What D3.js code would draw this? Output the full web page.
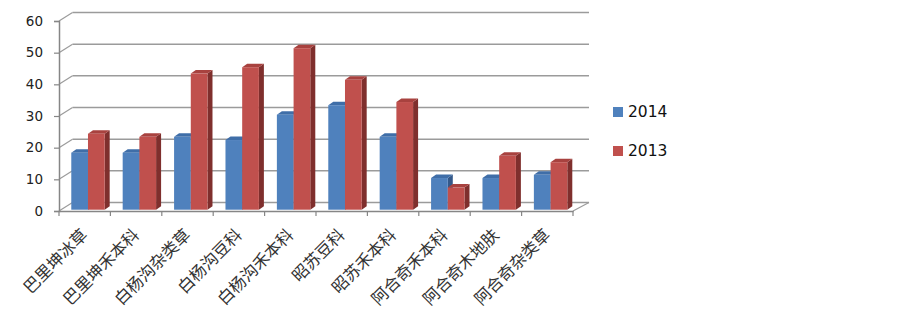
<!DOCTYPE html>
<html>
<head>
<meta charset="utf-8">
<script src="https://cdn.jsdelivr.net/npm/d3@7"></script>
<style>
  body { margin: 0; background: #fff; }
  svg { display: block; }
</style>
</head>
<body>
<svg></svg>
<script>
const categories = ['巴里坤冰草', '巴里坤禾本科', '白杨沟杂类草', '白杨沟豆科', '白杨沟禾本科',
  '昭苏豆科', '昭苏禾本科', '阿合奇禾本科', '阿合奇木地肤', '阿合奇杂类草'];
const values2014 = [18, 18, 23, 22, 30, 33, 23, 10, 10, 11];
const values2013 = [24, 23, 43, 45, 51, 41, 34, 7, 17, 15];
const yTicks = [0, 10, 20, 30, 40, 50, 60];

const series = [
  { name: '2014', values: values2014, front: '#4F81BD', top: '#3F6EA8', side: '#34598A' },
  { name: '2013', values: values2013, front: '#C0504D', top: '#A8423F', side: '#7F2F2D' }
];

const width = 903, height = 311;
const svg = d3.select('svg').attr('width', width).attr('height', height);

// front plane of the chart, back wall is shifted up-right
const DX = 13.5, DY = -8.5;
const x = d3.scaleBand().domain(categories).range([59, 573]);
const y = d3.scaleLinear().domain([0, 60]).range([211, 21]);

const gridColor = '#9b9b9b';

// back wall grid lines + diagonal on the left wall
yTicks.forEach(t => {
  svg.append('line')
    .attr('x1', 59 + DX).attr('x2', 573 + DX + 2.5)
    .attr('y1', y(t) + DY).attr('y2', y(t) + DY)
    .attr('stroke', gridColor).attr('stroke-width', 1.5);
  svg.append('line')
    .attr('x1', 59).attr('x2', 59 + DX)
    .attr('y1', y(t)).attr('y2', y(t) + DY)
    .attr('stroke', gridColor).attr('stroke-width', 1.2);
});

// floor right edge
svg.append('line')
  .attr('x1', 573).attr('y1', y(0))
  .attr('x2', 573 + DX + 2.5).attr('y2', y(0) + DY)
  .attr('stroke', gridColor).attr('stroke-width', 1.2);

// bars
const bw = x.bandwidth() * 0.325;
const bOff = x.bandwidth() * 0.2;
const fx = 2, fy = -1.3;       // bar front depth position
const sx = 5, sy = -3.5;       // bar depth

series.forEach((s, si) => {
  const g = svg.append('g');
  categories.forEach((c, i) => {
    const x0 = x(c) + bOff + fx + si * bw;
    const x1 = x0 + bw;
    const yTop = y(s.values[i]) + fy;
    const yBot = y(0) + fy;
    g.append('path')
      .attr('d', `M${x1},${yTop}L${x1 + sx},${yTop + sy}L${x1 + sx},${yBot + sy}L${x1},${yBot}Z`)
      .attr('fill', s.side);
    g.append('path')
      .attr('d', `M${x0},${yTop}L${x0 + sx},${yTop + sy}L${x1 + sx},${yTop + sy}L${x1},${yTop}Z`)
      .attr('fill', s.top);
    g.append('rect')
      .attr('x', x0).attr('y', yTop)
      .attr('width', bw).attr('height', yBot - yTop)
      .attr('fill', s.front);
  });
});

// y axis
const yAxis = svg.append('g').attr('transform', 'translate(59,0)')
  .call(d3.axisLeft(y).tickValues(yTicks).tickSize(5).tickPadding(11));
yAxis.select('.domain').attr('stroke', '#868686').attr('stroke-width', 1.5);
yAxis.selectAll('.tick line').attr('stroke', '#868686').attr('stroke-width', 1.2);
yAxis.selectAll('.tick text')
  .attr('font-family', 'DejaVu Sans').attr('font-size', 13.5).attr('fill', '#222');

// x axis
const xAxis = svg.append('g').attr('transform', `translate(0,${y(0)})`)
  .call(d3.axisBottom(x).tickSize(0).tickFormat(''));
xAxis.select('.domain').attr('stroke', '#868686').attr('stroke-width', 1.5);
xAxis.selectAll('.tick').remove();

svg.append('g').selectAll('line')
  .data(categories.concat(['end']))
  .join('line')
  .attr('x1', (d, i) => 59 + i * x.step())
  .attr('x2', (d, i) => 59 + i * x.step())
  .attr('y1', y(0)).attr('y2', y(0) + 5)
  .attr('stroke', '#868686').attr('stroke-width', 1.2);

svg.append('g').selectAll('text')
  .data(categories)
  .join('text')
  .attr('transform', d => `translate(${x(d) + x.bandwidth() / 2},${y(0) + 21}) rotate(-45)`)
  .attr('text-anchor', 'end')
  .attr('dy', '0.35em')
  .attr('font-family', 'Noto Sans CJK SC')
  .attr('font-size', 16.5)
  .attr('fill', '#333')
  .text(d => d);

// legend
const legend = svg.append('g');
series.forEach((s, i) => {
  const ly = 112 + i * 39;
  legend.append('rect')
    .attr('x', 613).attr('y', ly - 5)
    .attr('width', 10).attr('height', 10)
    .attr('fill', s.front);
  legend.append('text')
    .attr('x', 628).attr('y', ly)
    .attr('dy', '0.35em')
    .attr('font-family', 'DejaVu Sans').attr('font-size', 15.5)
    .attr('fill', '#111')
    .text(s.name);
});
</script>
</body>
</html>
